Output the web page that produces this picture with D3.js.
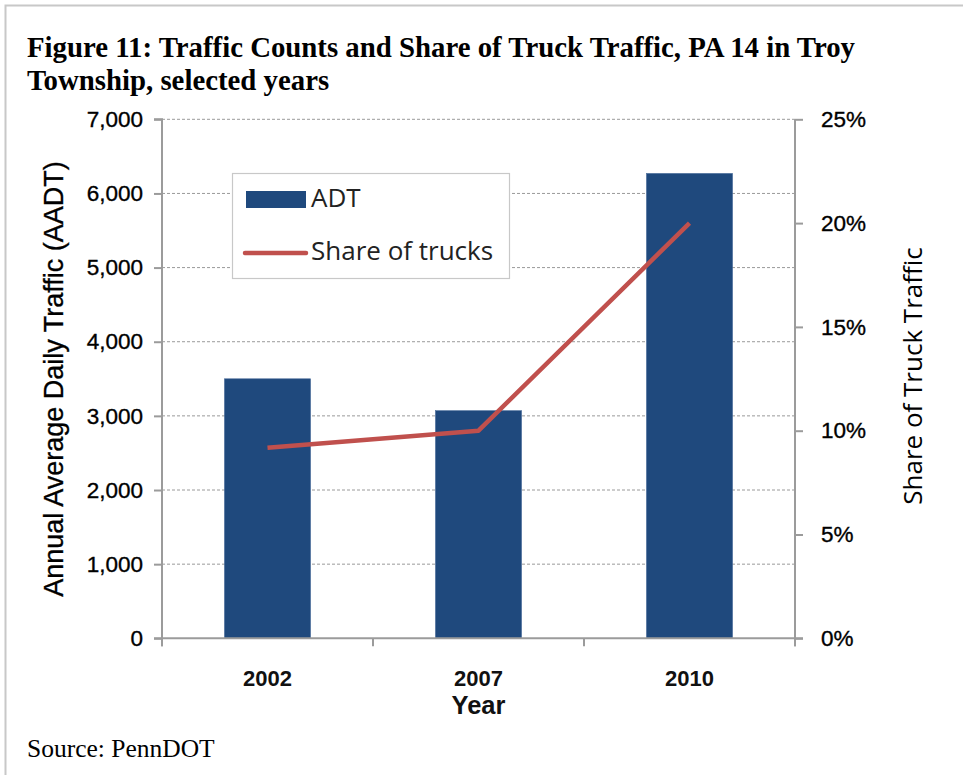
<!DOCTYPE html>
<html>
<head>
<meta charset="utf-8">
<script src="https://cdn.jsdelivr.net/npm/d3@7/dist/d3.min.js"></script>
<style>
  body { margin: 0; background: #fff; }
  svg { display: block; }
</style>
</head>
<body>
<svg id="chart" width="963" height="775"></svg>
<script>
// data
var years = ['2002', '2007', '2010'];
var adt = [3500, 3070, 6270];
var truckShare = [0.0918, 0.100, 0.200];
var leftTicks = [0, 1000, 2000, 3000, 4000, 5000, 6000, 7000];
var rightTicks = [0, 0.05, 0.10, 0.15, 0.20, 0.25];

var svg = d3.select('#chart');

var plot = {left: 162, right: 795, top: 119.3, bottom: 638.3};

var x = d3.scaleBand().domain(years).range([plot.left, plot.right]).paddingInner(0).paddingOuter(0);
var yL = d3.scaleLinear().domain([0, 7000]).range([plot.bottom, plot.top]);
var yR = d3.scaleLinear().domain([0, 0.25]).range([plot.bottom, plot.top]);

// outer frame
svg.append('rect')
	.attr('x', 5.5).attr('y', 5.5)
	.attr('width', 970).attr('height', 800)
	.attr('fill', 'none')
	.attr('stroke', '#c8c8c8')
	.attr('stroke-width', 2);

// title
var title = svg.append('text')
	.attr('font-family', '"Liberation Serif", serif')
	.attr('font-weight', 'bold')
	.attr('font-size', 28.8)
	.attr('fill', '#000');
title.append('tspan').attr('x', 27).attr('y', 57).text('Figure 11: Traffic Counts and Share of Truck Traffic, PA 14 in Troy');
title.append('tspan').attr('x', 27).attr('y', 90).text('Township, selected years');

// grid lines
svg.append('g').selectAll('line')
	.data(leftTicks.filter(function(d){ return d > 0; }))
	.enter().append('line')
	.attr('x1', plot.left).attr('x2', plot.right)
	.attr('y1', function(d){ return yL(d); })
	.attr('y2', function(d){ return yL(d); })
	.attr('stroke', '#9a9a9a')
	.attr('stroke-width', 1)
	.attr('stroke-dasharray', '3,2');

// bars
var barW = x.bandwidth() / 2.45;
svg.append('g').selectAll('rect')
	.data(adt)
	.enter().append('rect')
	.attr('x', function(d, i){ return x(years[i]) + (x.bandwidth() - barW) / 2; })
	.attr('y', function(d){ return yL(d); })
	.attr('width', barW)
	.attr('height', function(d){ return yL(0) - yL(d); })
	.attr('fill', '#1f497d')
	.attr('stroke', '#4a6c9a')
	.attr('stroke-width', 0.6);

// axes
var axisColor = '#9b9b9b';
var axisFont = '"Liberation Sans", Arial, sans-serif';

var leftAxis = svg.append('g')
	.attr('transform', 'translate(' + plot.left + ',0)')
	.call(d3.axisLeft(yL).tickValues(leftTicks).tickSize(8).tickPadding(11).tickFormat(d3.format(',')));

var rightAxis = svg.append('g')
	.attr('transform', 'translate(' + plot.right + ',0)')
	.call(d3.axisRight(yR).tickValues(rightTicks).tickSize(8).tickPadding(18).tickFormat(d3.format('.0%')));

var bottomAxis = svg.append('g')
	.attr('transform', 'translate(0,' + plot.bottom + ')')
	.call(d3.axisBottom(x).tickSize(0).tickPadding(32));

// category boundary ticks on the x axis
svg.append('g').selectAll('line')
	.data(years.concat(['end']))
	.enter().append('line')
	.attr('x1', function(d, i){ return plot.left + i * x.step(); })
	.attr('x2', function(d, i){ return plot.left + i * x.step(); })
	.attr('y1', plot.bottom).attr('y2', plot.bottom + 8)
	.attr('stroke', axisColor).attr('stroke-width', 2);

[leftAxis, rightAxis, bottomAxis].forEach(function(g){
	g.select('.domain').attr('stroke', axisColor).attr('stroke-width', 2);
	g.selectAll('.tick line').attr('stroke', axisColor).attr('stroke-width', 2);
	g.selectAll('.tick text')
		.attr('font-family', axisFont)
		.attr('font-size', 22.5)
		.attr('fill', '#000')
		.attr('stroke', '#000')
		.attr('stroke-width', 0.35);
});
leftAxis.select('.domain').attr('d', 'M-8,' + plot.top + 'H0V' + (plot.bottom + 8));
rightAxis.select('.domain').attr('d', 'M0,' + plot.top + 'V' + (plot.bottom + 8));
bottomAxis.select('.domain').attr('d', 'M' + (plot.left - 8) + ',0H' + (plot.right + 8));
bottomAxis.selectAll('.tick text').attr('font-size', 22).attr('font-weight', 'bold').attr('fill', '#111').attr('stroke', 'none');

// truck share line
var line = d3.line()
	.x(function(d, i){ return x(years[i]) + x.bandwidth() / 2; })
	.y(function(d){ return yR(d); });

svg.append('path')
	.datum(truckShare)
	.attr('d', line)
	.attr('fill', 'none')
	.attr('stroke', '#c0504d')
	.attr('stroke-width', 4.5)
	.attr('stroke-linejoin', 'round');

// axis titles
svg.append('text')
	.attr('transform', 'translate(63,379) rotate(-90)')
	.attr('text-anchor', 'middle')
	.attr('font-family', axisFont)
	.attr('font-size', 27)
	.attr('fill', '#000')
	.attr('stroke', '#000')
	.attr('stroke-width', 0.3)
	.text('Annual Average Daily Traffic (AADT)');

svg.append('text')
	.attr('transform', 'translate(922,376) rotate(-90)')
	.attr('text-anchor', 'middle')
	.attr('font-family', '"Open Sans", sans-serif')
	.attr('font-size', 26)
	.attr('fill', '#000')
	.text('Share of Truck Traffic');

svg.append('text')
	.attr('x', (plot.left + plot.right) / 2).attr('y', 714)
	.attr('text-anchor', 'middle')
	.attr('font-family', axisFont)
	.attr('font-weight', 'bold')
	.attr('font-size', 25.5)
	.attr('fill', '#111')
	.text('Year');

// legend
var legend = svg.append('g');
legend.append('rect')
	.attr('x', 232.5).attr('y', 173.5)
	.attr('width', 277).attr('height', 105)
	.attr('fill', '#fff')
	.attr('stroke', '#c8c8c8')
	.attr('stroke-width', 1.2);
legend.append('rect')
	.attr('x', 246).attr('y', 191)
	.attr('width', 60).attr('height', 17)
	.attr('fill', '#1f497d');
legend.append('line')
	.attr('x1', 245).attr('x2', 306)
	.attr('y1', 253).attr('y2', 253)
	.attr('stroke', '#c0504d')
	.attr('stroke-width', 4.5)
	.attr('stroke-linecap', 'round');
legend.append('text')
	.attr('x', 311).attr('y', 207)
	.attr('font-family', '"Open Sans", sans-serif')
	.attr('font-size', 26)
	.attr('fill', '#222')
	.text('ADT');
legend.append('text')
	.attr('x', 311).attr('y', 260)
	.attr('font-family', '"Open Sans", sans-serif')
	.attr('font-size', 26)
	.attr('fill', '#222')
	.text('Share of trucks');

// source note
svg.append('text')
	.attr('x', 27).attr('y', 757)
	.attr('font-family', '"Liberation Serif", serif')
	.attr('font-size', 25.5)
	.attr('fill', '#000')
	.text('Source: PennDOT');
</script>
</body>
</html>
